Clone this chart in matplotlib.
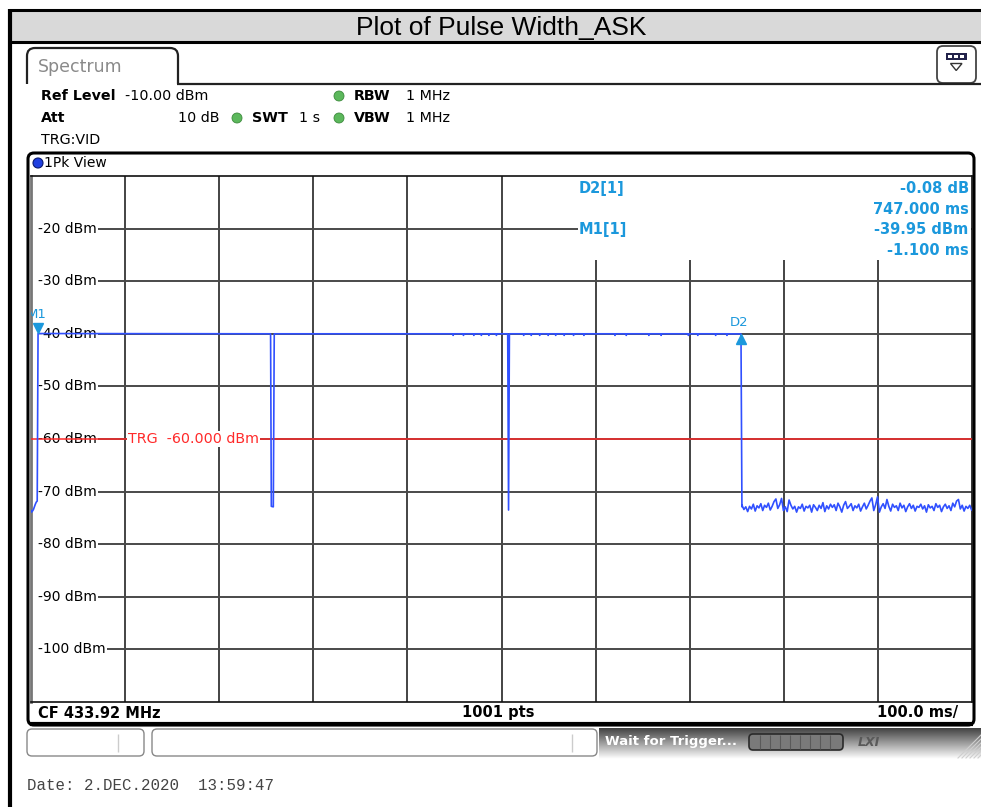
import numpy as np
import matplotlib
matplotlib.use("Agg")
import matplotlib.pyplot as plt
from matplotlib.patches import FancyBboxPatch, Rectangle, Polygon, Circle
from matplotlib.transforms import blended_transform_factory

# sweep window relative to trigger, ms
t_start, t_stop = -8.6, 991.4
ref_level, range_db = -10.0, 100.0
trg_level = -60.0

# pre-trigger noise before the first rising edge
pre_t = [-8.6, -8.0, -7.0, -6.0, -5.0, -4.0, -3.0, -2.0]
pre_db = [-73.6, -73.9, -73.7, -73.4, -72.9, -72.4, -72.0, -71.8]

# on/off keyed envelope breakpoints (ms, dBm)
env_t = [-1.1, 246.0, 246.8, 248.9, 249.9, 498.0, 498.9, 499.8, 745.9, 746.9]
env_db = [-39.95, -40.0, -72.8, -72.9, -40.0, -40.0, -73.5, -40.0, -40.03, -72.9]

# small ripple dips on the carrier
ripple_t = [440, 451, 462, 470, 478, 486, 515, 523, 532, 541, 549, 558, 568, 579,
            612, 624, 648, 661, 690, 700, 719, 731]
ripple_db = -40.3

# noise floor after the carrier switches off, 2 ms steps from 747 ms
noise_t0, noise_dt = 747.0, 2.0
noise_db = [
    -72.6, -73.4, -72.9, -73.8, -72.8, -73.3, -72.4, -73.7, -72.7, -73.1,
    -72.3, -73.6, -72.6, -73.0, -72.2, -73.5, -72.8, -71.9, -71.4, -73.2,
    -72.5, -71.3, -73.6, -72.9, -73.8, -71.6, -72.6, -73.3, -72.8, -73.9,
    -72.9, -73.2, -72.4, -73.7, -72.8, -73.1, -72.6, -73.9, -72.5, -73.0,
    -73.6, -72.6, -73.2, -72.1, -73.8, -72.7, -73.3, -72.4, -73.0, -72.5,
    -73.6, -72.2, -72.9, -73.9, -72.6, -71.9, -73.2, -72.8, -72.3, -73.6,
    -72.7, -73.1, -72.4, -73.7, -72.9, -72.2, -73.3, -72.6, -71.8, -71.2,
    -73.6, -72.5, -71.0, -73.9, -72.9, -72.3, -73.2, -71.5, -72.8, -73.7,
    -72.4, -73.0, -72.7, -73.6, -72.2, -73.1, -72.6, -73.8, -72.9, -72.3,
    -73.2, -72.6, -73.7, -72.8, -73.0, -72.4, -73.3, -72.7, -73.9, -72.5,
    -73.1, -72.8, -73.6, -72.3, -73.0, -72.6, -73.8, -72.9, -72.4, -73.2,
    -72.7, -73.6, -72.2, -72.9, -71.8, -71.5, -73.3, -72.6, -73.7, -72.8,
    -73.2, -72.6, -73.5,
]

# markers
m1_t, m1_db = -1.1, -39.95
d2_t, d2_db = 745.9, -40.03
marker_lines = [
    ("D2[1]", "-0.08 dB"),
    ("", "747.000 ms"),
    ("M1[1]", "-39.95 dBm"),
    ("", "-1.100 ms"),
]

ytick_vals = [-20, -30, -40, -50, -60, -70, -80, -90, -100]
header = "Plot of Pulse Width_ASK"
date_str = "Date: 2.DEC.2020  13:59:47"

TRACE = "#3050ff"
MARK = "#1b98dc"
TRG = "#ff2a2a"
UI = "DejaVu Sans"

W, H = 981, 807
fig = plt.figure(figsize=(W / 100, H / 100), dpi=100)

# full-figure pixel canvas for the instrument chrome
bg = fig.add_axes([0, 0, 1, 1])
bg.set_xlim(0, W)
bg.set_ylim(H, 0)
bg.axis("off")


def rbox(x, y, w, h, r, **kw):
    p = FancyBboxPatch((x, y), w, h, boxstyle=f"round,pad=0,rounding_size={r}", **kw)
    bg.add_patch(p)
    return p


def hline(y, x0, x1, **kw):
    bg.plot([x0, x1], [y, y], solid_capstyle="butt", **kw)


def vline(x, y0, y1, **kw):
    bg.plot([x, x], [y0, y1], solid_capstyle="butt", **kw)


# title bar
bg.add_patch(Rectangle((10, 10), W - 10, 32, facecolor="#d9d9d9", edgecolor="none"))
hline(10, 9, W, color="black", lw=2.2)
hline(42, 9, W, color="black", lw=2.2)
vline(10, 9, H, color="black", lw=3)
bg.text(501, 27.5, header, family="Liberation Sans", fontsize=19,
        ha="center", va="center", color="black")

# Spectrum tab
rbox(27, 48, 151, 50, 8, facecolor="white", edgecolor="#222", lw=1.6)
bg.add_patch(Rectangle((20, 84), 170, 20, facecolor="white", edgecolor="none", zorder=2))
hline(83.5, 177, W, color="#222", lw=1.6, zorder=3)
bg.text(38, 67, "Spectrum", family=UI, fontsize=12.5, color="#8a8a8a",
        ha="left", va="center")

# view selector icon
rbox(937, 46, 39, 37, 6, facecolor="white", edgecolor="#444", lw=1.3)
bg.add_patch(Rectangle((946, 53), 21, 7, facecolor="#22224a", edgecolor="none"))
for sx in (948, 954, 960):
    bg.add_patch(Rectangle((sx, 55), 4, 3, facecolor="white", edgecolor="none"))
bg.add_patch(Polygon([(950.5, 63.5), (962, 63.5), (956.2, 70.5)], closed=True,
                     facecolor="none", edgecolor="#333", lw=1))

# instrument settings
fs_h = 10.3
bg.text(41, 96, "Ref Level", family=UI, fontsize=fs_h, fontweight="bold", va="center")
bg.text(125, 96, "-10.00 dBm", family=UI, fontsize=fs_h, va="center")
bg.text(41, 118, "Att", family=UI, fontsize=fs_h, fontweight="bold", va="center")
bg.text(220, 118, "10 dB", family=UI, fontsize=fs_h, va="center", ha="right")
bg.text(41, 140, "TRG:VID", family=UI, fontsize=fs_h, va="center")
for cx, cy in [(339, 96), (237, 118), (339, 118)]:
    bg.add_patch(Circle((cx, cy), 5, facecolor="#5cb85c", edgecolor="#3c8a3c", lw=0.6))
bg.text(354, 96, "RBW", family=UI, fontsize=fs_h, fontweight="bold", va="center")
bg.text(406, 96, "1 MHz", family=UI, fontsize=fs_h, va="center")
bg.text(252, 118, "SWT", family=UI, fontsize=fs_h, fontweight="bold", va="center")
bg.text(299, 118, "1 s", family=UI, fontsize=fs_h, va="center")
bg.text(354, 118, "VBW", family=UI, fontsize=fs_h, fontweight="bold", va="center")
bg.text(406, 118, "1 MHz", family=UI, fontsize=fs_h, va="center")

# diagram frame
rbox(28, 153, 946, 572, 6, facecolor="white", edgecolor="black", lw=2.2)
hline(724, 30, 973, color="black", lw=3)
bg.add_patch(Circle((38, 163), 5, facecolor="#1f3fe0", edgecolor="#0a1a70", lw=0.8))
bg.text(44, 163, "1Pk View", family=UI, fontsize=10, va="center")
bg.text(38, 713, "CF 433.92 MHz", family=UI, fontsize=10.5, fontweight="bold", va="center")
bg.text(498, 713, "1001 pts", family=UI, fontsize=10.5, fontweight="bold",
        va="center", ha="center")
bg.text(958, 713, "100.0 ms/", family=UI, fontsize=10.5, fontweight="bold",
        va="center", ha="right")

# status bar
rbox(27, 729, 117, 27, 5, facecolor="white", edgecolor="#888", lw=1)
vline(118, 734, 752, color="#cccccc", lw=1)
rbox(152, 729, 445, 27, 5, facecolor="white", edgecolor="#888", lw=1)
vline(572, 734, 752, color="#cccccc", lw=1)
grad = np.linspace(0, 1, 64)[:, None] * np.ones((1, 2))
bg.imshow(grad, cmap="gray", vmin=-0.35, vmax=1.0, aspect="auto",
          extent=(599, W, 759, 728), zorder=0.5)
bg.text(605, 742, "Wait for Trigger...", family=UI, fontsize=9.5, fontweight="bold",
        color="white", va="center")
rbox(749, 734, 94, 16, 4, facecolor="#7a7a7a", edgecolor="#2a2a2a", lw=1.2)
for sx in np.arange(760, 835, 10):
    vline(sx, 735, 749, color="#5a5a5a", lw=0.8)
bg.text(869, 742, "LXI", family=UI, fontsize=9, fontweight="bold", style="italic",
        color="#5a5a5a", ha="center", va="center")
for k in range(6):
    bg.plot([958 + 4 * k, 981], [758, 758 - (23 - 4 * k)], color="#cfcfcf", lw=0.8)

bg.text(27, 785, date_str, family="Liberation Mono", fontsize=11.3, color="#444",
        va="center")

# measurement diagram
L, R, T, B = 31, 972, 176, 702
ax = fig.add_axes([L / W, 1 - B / H, (R - L) / W, (B - T) / H], zorder=2)
ax.set_xlim(t_start, t_stop)
ax.set_ylim(ref_level - range_db, ref_level)
ax.set_xticks([])
ax.set_yticks([])
for s in ax.spines.values():
    s.set_color("#111")
    s.set_linewidth(1.2)
ax.spines["left"].set_color("#777")
ax.spines["left"].set_linewidth(2)

yx = blended_transform_factory(ax.transAxes, ax.transData)

div = (t_stop - t_start) / 10
for k in range(1, 10):
    ax.axvline(t_start + k * div, color="#111", lw=1.1, zorder=1)
for v in ytick_vals:
    ax.axhline(v, xmin=0.0075, color="#4a4a4a", lw=1.4, zorder=1)
    ax.text(0.0075, v, f"{v} dBm", transform=yx, family=UI, fontsize=10,
            va="center", ha="left", zorder=2,
            bbox=dict(facecolor="white", edgecolor="none", pad=0.8))

# marker readout block
box_x = 0.5815
ax.add_patch(Rectangle((box_x, -26.0), 1 - box_x - 0.001, 16.0, transform=yx,
                       facecolor="white", edgecolor="none", zorder=2))
row_y = [-12.3, -16.3, -20.2, -24.1]
for (lab, val), yy in zip(marker_lines, row_y):
    if lab:
        ax.text(box_x + 0.0005, yy, lab, transform=yx, family=UI, fontsize=10.5,
                fontweight="bold", color=MARK, va="center", ha="left", zorder=3)
    ax.text(0.9965, yy, val, transform=yx, family=UI, fontsize=10.5,
            fontweight="bold", color=MARK, va="center", ha="right", zorder=3)

# trigger level
ax.axhline(trg_level, color=TRG, lw=1.1, zorder=3)
ax.text(94.5, trg_level, "TRG  -60.000 dBm", family=UI, fontsize=10.3, color=TRG,
        va="center", ha="left", zorder=4,
        bbox=dict(facecolor="white", edgecolor="none", pad=0.5))

# assemble the trace
seg_t = list(pre_t)
seg_db = list(pre_db)
rip = sorted(ripple_t)
for i, (t, d) in enumerate(zip(env_t, env_db)):
    seg_t.append(t)
    seg_db.append(d)
    if i + 1 < len(env_t) and d > -45 and env_db[i + 1] > -45:
        for r in rip:
            if t < r - 0.5 and r + 0.5 < env_t[i + 1]:
                seg_t += [r - 0.5, r, r + 0.5]
                seg_db += [-40.0, ripple_db, -40.0]
nt = noise_t0 + noise_dt * np.arange(len(noise_db))
seg_t += list(nt)
seg_db += list(noise_db)
ax.plot(seg_t, seg_db, color=TRACE, lw=1.2, zorder=5)

# M1 and D2 markers
ax.plot(m1_t, m1_db + 1.0, marker="v", ms=7.5, color=MARK, zorder=6, clip_on=False)
ax.text(m1_t - 1.4, m1_db + 3.6, "M1", family=UI, fontsize=9.5, color=MARK,
        ha="center", va="center", zorder=6, clip_on=True)
ax.plot(d2_t, d2_db - 1.0, marker="^", ms=7.5, color=MARK, zorder=6)
ax.text(d2_t - 2.0, d2_db + 2.2, "D2", family=UI, fontsize=9.5, color=MARK,
        ha="center", va="center", zorder=6)

fig.savefig("out.png", dpi=100)
